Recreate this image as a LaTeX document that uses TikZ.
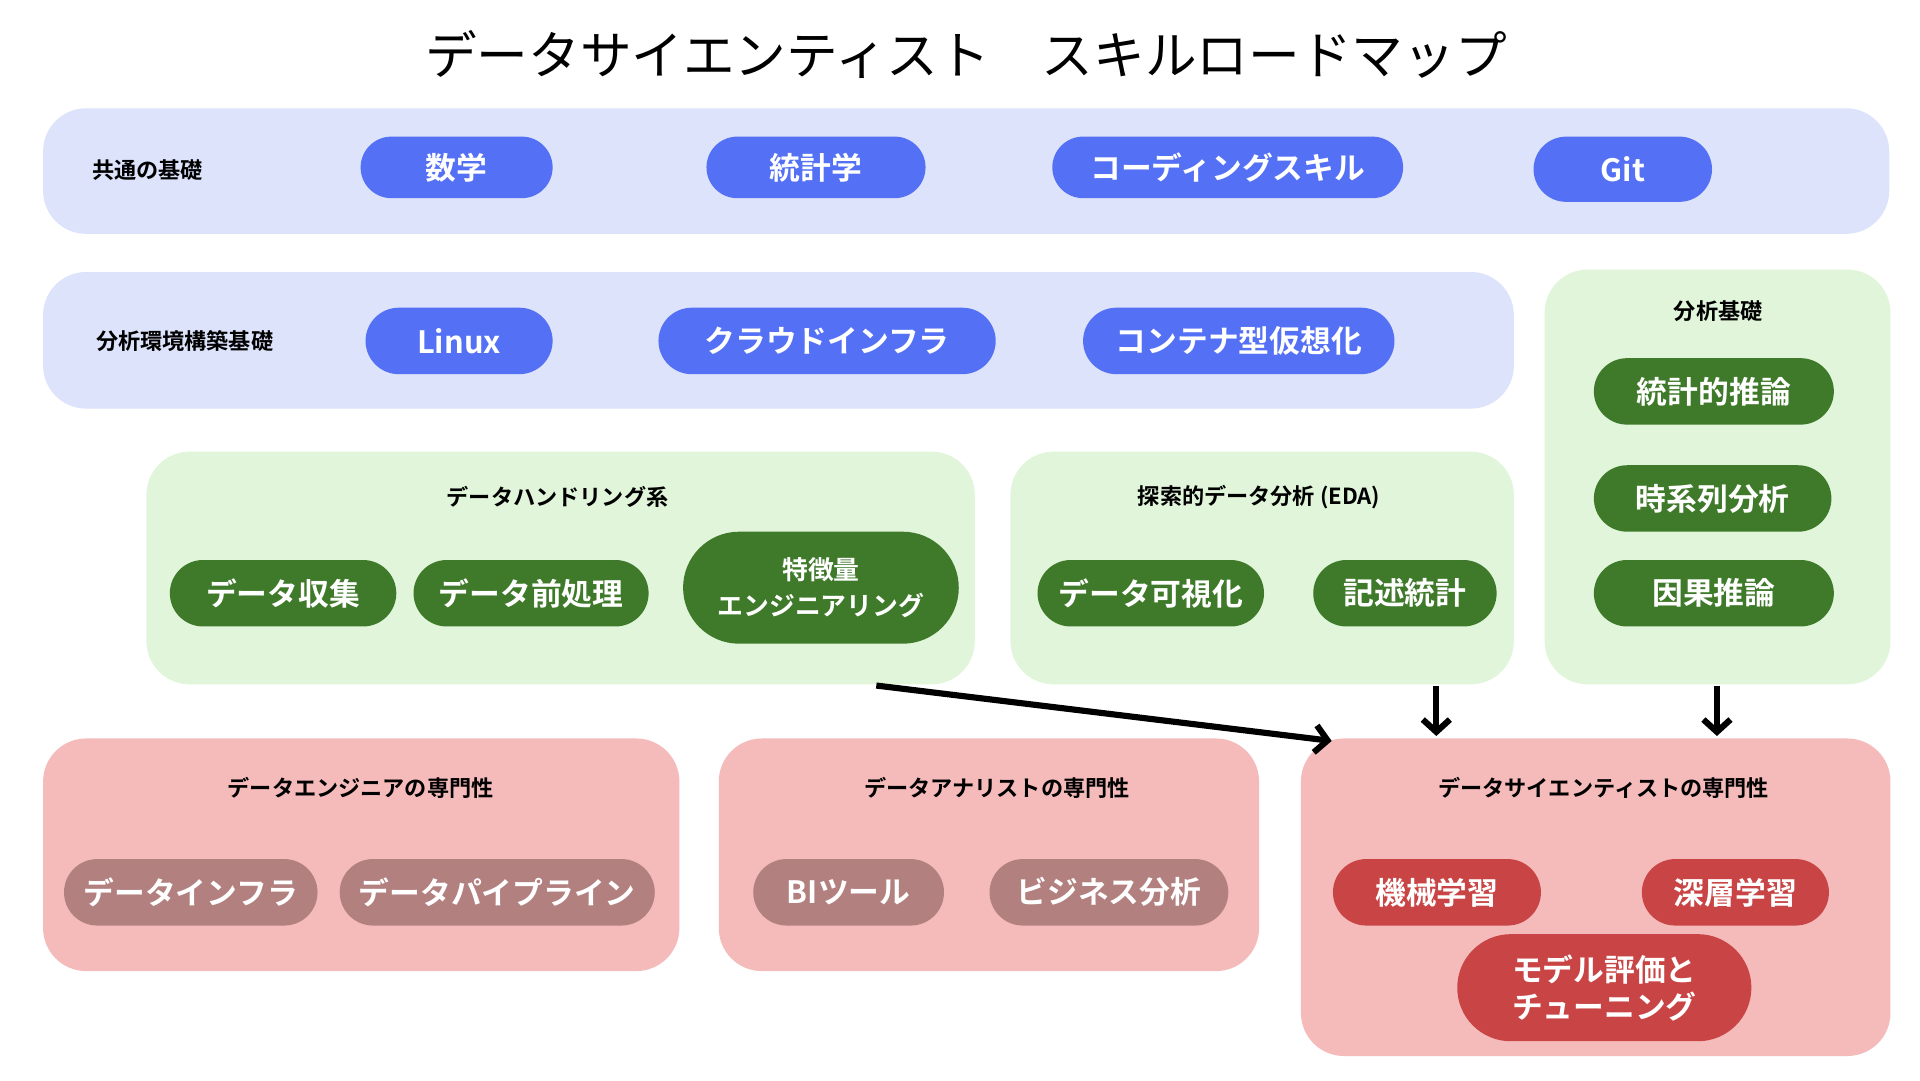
\documentclass[tikz,border=0pt]{standalone}
\usepackage{fontspec}
\setmainfont{Noto Sans CJK JP}
\newfontfamily\bj{Noto Sans CJK JP Bold}
\usetikzlibrary{arrows.meta}
\definecolor{blueBg}{HTML}{DCE3FB}
\definecolor{bluePill}{HTML}{5470F5}
\definecolor{greenBg}{HTML}{E0F5DA}
\definecolor{greenPill}{HTML}{3F7A2A}
\definecolor{redBg}{HTML}{F5BBBB}
\definecolor{mutePill}{HTML}{B38080}
\definecolor{redPill}{HTML}{C94444}
\tikzset{
 box/.style={rounded corners=35pt},
 pill/.style={text=white, font=\bj\fontsize{25}{30}\selectfont, inner sep=0pt, align=center},
 glabel/.style={font=\bj\fontsize{18}{22}\selectfont, text=black},
 arr/.style={line width=5pt, -{Straight Barb[length=10pt,width=22pt,line width=5pt]}}
}
\newcommand{\pillat}[7]{% name, x1,y1,x2,y2, color, text
 \fill[#6, rounded corners={min((#4-#2),(#5-#3))/2*1pt}] (#2,#3) rectangle (#4,#5);
 \node[pill] (#1) at ({(#2+#4)/2},{(#3+#5)/2}) {#7};}
\begin{document}
\begin{tikzpicture}[x=1pt,y=-1pt]
\useasboundingbox[fill=white] (0,0) rectangle (1560,878);
\node[font=\fontsize{42}{50}\selectfont] (title) at (785,44) {データサイエンティスト\quad スキルロードマップ};
% row 1
\fill[blueBg,box] (35,88) rectangle (1535,190);
\node[glabel] (l1) at (120,138) {共通の基礎};
\pillat{p1}{293}{111}{449}{161}{bluePill}{数学}
\pillat{p2}{574}{111}{752}{161}{bluePill}{統計学}
\pillat{p3}{855}{111}{1140}{161}{bluePill}{コーディングスキル}
\pillat{p4}{1246}{111}{1391}{164}{bluePill}{Git}
% row 2
\fill[blueBg,box] (35,221) rectangle (1230,332);
\node[glabel] (l2) at (150,277) {分析環境構築基礎};
\pillat{q1}{297}{250}{449}{304}{bluePill}{Linux}
\pillat{q2}{535}{250}{809}{304}{bluePill}{クラウドインフラ}
\pillat{q3}{880}{250}{1133}{304}{bluePill}{コンテナ型仮想化}
% analysis basics
\fill[greenBg,box] (1255,219) rectangle (1536,556);
\node[glabel] (l3) at (1396,253) {分析基礎};
\pillat{r1}{1295}{291}{1490}{345}{greenPill}{統計的推論}
\pillat{r2}{1295}{378}{1488}{432}{greenPill}{時系列分析}
\pillat{r3}{1295}{455}{1490}{509}{greenPill}{因果推論}
% data handling
\fill[greenBg,box] (119,367) rectangle (792,556);
\node[glabel] (l4) at (453,404) {データハンドリング系};
\pillat{s1}{138}{455}{322}{509}{greenPill}{データ収集}
\pillat{s2}{336}{455}{527}{509}{greenPill}{データ前処理}
\pillat{s3}{555}{432}{779}{523}{greenPill}{\fontsize{21}{37}\selectfont 特徴量\\\fontsize{21}{30}\selectfont エンジニアリング}
% EDA
\fill[greenBg,box] (821,367) rectangle (1230,556);
\node[glabel] (l5) at (1023,404) {探索的データ分析 (EDA)};
\pillat{t1}{843}{455}{1027}{509}{greenPill}{データ可視化}
\pillat{t2}{1067}{455}{1216}{509}{greenPill}{記述統計}
% engineer
\fill[redBg,box] (35,600) rectangle (552,789);
\node[glabel] (l6) at (293,640) {データエンジニアの専門性};
\pillat{u1}{52}{698}{258}{752}{mutePill}{データインフラ}
\pillat{u2}{276}{698}{532}{752}{mutePill}{データパイプライン}
% analyst
\fill[redBg,box] (584,600) rectangle (1023,789);
\node[glabel] (l7) at (810,640) {データアナリストの専門性};
\pillat{v1}{612}{698}{767}{752}{mutePill}{BIツール}
\pillat{v2}{804}{698}{998}{752}{mutePill}{ビジネス分析}
% scientist
\fill[redBg,box] (1057,600) rectangle (1536,858);
\node[glabel] (l8) at (1303,640) {データサイエンティストの専門性};
\pillat{w1}{1083}{698}{1252}{752}{redPill}{機械学習}
\pillat{w2}{1334}{698}{1486}{752}{redPill}{深層学習}
\pillat{w3}{1184}{759}{1423}{846}{redPill}{モデル評価と\\チューニング}
% arrows
\coordinate (a1s) at (712,557); \coordinate (a1e) at (1082,602);
\coordinate (a2s) at (1167,557); \coordinate (a2e) at (1167,598);
\coordinate (a3s) at (1395,557); \coordinate (a3e) at (1395,598);
\draw[arr] (a1s) -- (a1e);
\draw[arr] (a2s) -- (a2e);
\draw[arr] (a3s) -- (a3e);
\end{tikzpicture}
\end{document}
